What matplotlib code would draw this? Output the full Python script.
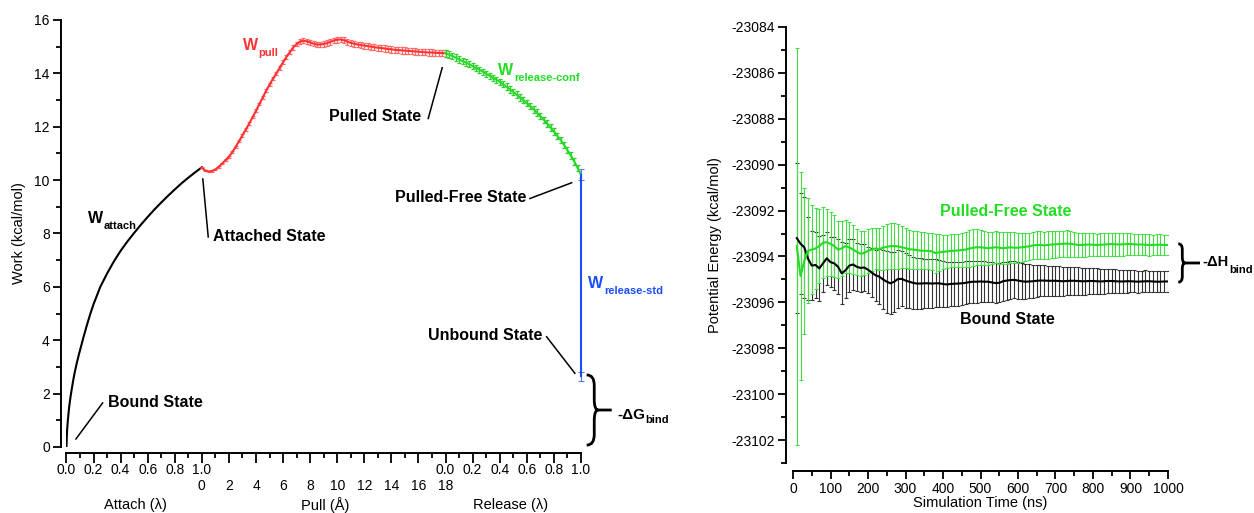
import matplotlib
matplotlib.use('Agg')
import matplotlib.pyplot as plt
import numpy as np
from matplotlib.path import Path
from matplotlib.patches import PathPatch
from matplotlib.ticker import MultipleLocator

plt.rcParams['font.family'] = ['Liberation Sans', 'DejaVu Sans']
plt.rcParams['axes.unicode_minus'] = False

# ---- left panel data ----
attach_lam = [0.0, 0.0025, 0.005, 0.01, 0.015, 0.02, 0.03, 0.04, 0.05, 0.06, 0.075, 0.09, 0.1, 0.125, 0.15,
              0.175, 0.2, 0.25, 0.3, 0.35, 0.4, 0.45, 0.5, 0.55, 0.6, 0.65, 0.7, 0.75, 0.8, 0.85, 0.9, 0.95, 1.0]
attach_w = [0.0, 0.4, 0.65, 0.98, 1.25, 1.5, 1.88, 2.2, 2.5, 2.77, 3.12, 3.43, 3.62, 4.1, 4.55,
            4.97, 5.35, 6.0, 6.5, 6.95, 7.35, 7.7, 8.02, 8.33, 8.62, 8.9, 9.16, 9.41, 9.65, 9.88, 10.09, 10.29, 10.48]

pull_d = [0.0, 0.25, 0.5, 0.75, 1.0, 1.25, 1.5, 1.75, 2.0, 2.25, 2.5, 2.75, 3.0, 3.25, 3.5, 3.75,
          4.0, 4.25, 4.5, 4.75, 5.0, 5.25, 5.5, 5.75, 6.0, 6.25, 6.5, 6.75, 7.0, 7.25, 7.5, 7.75,
          8.0, 8.25, 8.5, 8.75, 9.0, 9.25, 9.5, 9.75, 10.0, 10.25, 10.5, 10.75, 11.0, 11.25, 11.5, 11.75,
          12.0, 12.25, 12.5, 12.75, 13.0, 13.25, 13.5, 13.75, 14.0, 14.25, 14.5, 14.75, 15.0, 15.25, 15.5,
          15.75, 16.0, 16.25, 16.5, 16.75, 17.0, 17.25, 17.5, 17.75, 18.0]
pull_w = [10.46, 10.36, 10.32, 10.34, 10.40, 10.50, 10.62, 10.75, 10.88, 11.05, 11.25, 11.46, 11.68, 11.90, 12.12, 12.36,
          12.60, 12.85, 13.10, 13.35, 13.58, 13.80, 14.00, 14.21, 14.42, 14.62, 14.80, 14.97, 15.10, 15.19, 15.22, 15.20,
          15.16, 15.11, 15.08, 15.08, 15.10, 15.13, 15.18, 15.23, 15.26, 15.27, 15.24, 15.19, 15.14, 15.11, 15.08, 15.06,
          15.04, 15.02, 15.00, 14.98, 14.96, 14.95, 14.93, 14.91, 14.90, 14.88, 14.87, 14.86, 14.85, 14.84, 14.83,
          14.82, 14.81, 14.80, 14.79, 14.78, 14.78, 14.77, 14.76, 14.76, 14.75]
pull_err = [0.02, 0.02, 0.03, 0.03, 0.03, 0.03, 0.03, 0.04, 0.04, 0.04, 0.04, 0.04, 0.05, 0.05, 0.05, 0.05,
            0.05, 0.05, 0.05, 0.06, 0.06, 0.06, 0.06, 0.07, 0.07, 0.07, 0.08, 0.08, 0.09, 0.09, 0.10, 0.10,
            0.10, 0.10, 0.10, 0.10, 0.11, 0.11, 0.11, 0.11, 0.11, 0.11, 0.11, 0.11, 0.11, 0.11, 0.11, 0.11,
            0.11, 0.11, 0.11, 0.12, 0.12, 0.12, 0.12, 0.12, 0.12, 0.12, 0.12, 0.12, 0.12, 0.12, 0.12,
            0.12, 0.12, 0.12, 0.12, 0.12, 0.12, 0.12, 0.12, 0.12, 0.12]

rel_lam = [0.0, 0.025, 0.05, 0.075, 0.1, 0.125, 0.15, 0.175, 0.2, 0.225, 0.25, 0.275, 0.3, 0.325, 0.35, 0.375,
           0.4, 0.425, 0.45, 0.475, 0.5, 0.525, 0.55, 0.575, 0.6, 0.625, 0.65, 0.675, 0.7, 0.725, 0.75, 0.775,
           0.8, 0.825, 0.85, 0.875, 0.9, 0.925, 0.95, 0.975, 1.0]
rel_w = [14.75, 14.70, 14.65, 14.59, 14.52, 14.46, 14.40, 14.34, 14.27, 14.20, 14.13, 14.06, 13.98, 13.91, 13.83, 13.76,
         13.68, 13.59, 13.50, 13.40, 13.30, 13.20, 13.10, 12.99, 12.88, 12.77, 12.65, 12.53, 12.40, 12.26, 12.12, 11.97,
         11.82, 11.66, 11.50, 11.32, 11.12, 10.92, 10.70, 10.46, 10.20]
rel_err = [0.12] * 41

std_lam = [1.0, 1.0]
std_w = [10.2, 2.65]
std_err = [0.2, 0.17]

# ---- right panel data ----
time_ns = np.arange(10, 1001, 10)
pf_mean = [-23093.55, -23094.85, -23094.2, -23093.75, -23093.7, -23093.65, -23093.55, -23093.4, -23093.38, -23093.45,
           -23093.55, -23093.7, -23093.65, -23093.55, -23093.6, -23093.7, -23093.8, -23093.88, -23093.85, -23093.75,
           -23093.7, -23093.65, -23093.68, -23093.62, -23093.58, -23093.55, -23093.55, -23093.56, -23093.6, -23093.64,
           -23093.68, -23093.7, -23093.72, -23093.75, -23093.75, -23093.76, -23093.78, -23093.85, -23093.82, -23093.8,
           -23093.78, -23093.76, -23093.75, -23093.74, -23093.72, -23093.7, -23093.66, -23093.62, -23093.6, -23093.6,
           -23093.62, -23093.64, -23093.62, -23093.6, -23093.62, -23093.64, -23093.62, -23093.6, -23093.62, -23093.62,
           -23093.6, -23093.58, -23093.56, -23093.52, -23093.5, -23093.5, -23093.52, -23093.5, -23093.48, -23093.47,
           -23093.46, -23093.45, -23093.44, -23093.45, -23093.47, -23093.5, -23093.5, -23093.49, -23093.48, -23093.49,
           -23093.5, -23093.49, -23093.48, -23093.47, -23093.46, -23093.47, -23093.48, -23093.47, -23093.46, -23093.46,
           -23093.47, -23093.48, -23093.48, -23093.49, -23093.5, -23093.5, -23093.49, -23093.49, -23093.5, -23093.5]
pf_err = [8.65, 4.55, 3.2, 2.3, 1.95, 1.75, 1.6, 1.55, 1.45, 1.4,
          1.35, 1.25, 1.2, 1.15, 1.1, 1.05, 1.0, 0.98, 0.96, 0.95,
          0.92, 0.9, 0.92, 0.95, 0.98, 1.0, 1.0, 0.98, 0.92, 0.88,
          0.85, 0.83, 0.82, 0.8, 0.8, 0.8, 0.82, 0.85, 0.8, 0.75,
          0.73, 0.72, 0.72, 0.73, 0.75, 0.78, 0.8, 0.8, 0.78, 0.76,
          0.74, 0.72, 0.7, 0.7, 0.7, 0.7, 0.69, 0.68, 0.67, 0.66,
          0.64, 0.62, 0.6, 0.6, 0.6, 0.6, 0.6, 0.59, 0.58, 0.58,
          0.57, 0.57, 0.58, 0.57, 0.55, 0.54, 0.53, 0.52, 0.52, 0.51,
          0.5, 0.5, 0.49, 0.49, 0.5, 0.5, 0.49, 0.49, 0.48, 0.48,
          0.47, 0.47, 0.46, 0.46, 0.46, 0.45, 0.45, 0.45, 0.45, 0.45]
bd_mean = [-23093.2, -23093.45, -23093.6, -23094.1, -23094.4, -23094.37, -23094.52, -23094.3, -23094.08, -23094.25,
           -23094.3, -23094.45, -23094.74, -23094.6, -23094.4, -23094.35, -23094.45, -23094.5, -23094.48, -23094.58,
           -23094.7, -23094.82, -23094.88, -23095.0, -23095.1, -23095.17, -23095.1, -23094.98, -23094.98, -23095.05,
           -23095.1, -23095.15, -23095.18, -23095.18, -23095.17, -23095.17, -23095.18, -23095.17, -23095.17, -23095.2,
           -23095.22, -23095.2, -23095.19, -23095.18, -23095.17, -23095.15, -23095.12, -23095.1, -23095.1, -23095.09,
           -23095.1, -23095.1, -23095.13, -23095.16, -23095.15, -23095.08, -23095.05, -23095.03, -23095.02, -23095.05,
           -23095.08, -23095.1, -23095.09, -23095.08, -23095.06, -23095.05, -23095.05, -23095.06, -23095.06, -23095.06,
           -23095.07, -23095.08, -23095.07, -23095.06, -23095.06, -23095.07, -23095.08, -23095.08, -23095.07, -23095.07,
           -23095.08, -23095.09, -23095.08, -23095.07, -23095.07, -23095.08, -23095.09, -23095.09, -23095.08, -23095.08,
           -23095.09, -23095.1, -23095.09, -23095.08, -23095.08, -23095.09, -23095.1, -23095.1, -23095.09, -23095.09]
bd_err = [3.26, 2.2, 2.2, 1.8, 1.5, 1.45, 1.4, 1.25, 1.15, 1.1,
          1.15, 1.2, 1.35, 1.2, 1.15, 1.1, 1.05, 1.05, 1.03, 1.0,
          1.05, 1.1, 1.2, 1.3, 1.35, 1.35, 1.3, 1.25, 1.2, 1.18,
          1.15, 1.12, 1.1, 1.1, 1.08, 1.06, 1.05, 1.04, 1.03, 1.02,
          1.0, 0.98, 0.97, 0.96, 0.95, 0.94, 0.93, 0.92, 0.91, 0.9,
          0.89, 0.88, 0.87, 0.86, 0.85, 0.84, 0.83, 0.82, 0.81, 0.8,
          0.78, 0.76, 0.74, 0.72, 0.7, 0.68, 0.67, 0.66, 0.65, 0.65,
          0.64, 0.63, 0.62, 0.61, 0.6, 0.6, 0.59, 0.58, 0.58, 0.57,
          0.56, 0.55, 0.55, 0.54, 0.53, 0.52, 0.51, 0.5, 0.5, 0.49,
          0.48, 0.48, 0.47, 0.47, 0.46, 0.46, 0.45, 0.45, 0.45, 0.45]

attach_ticks = ['0.0', '0.2', '0.4', '0.6', '0.8', '1.0']
pull_ticks = ['0', '2', '4', '6', '8', '10', '12', '14', '16', '18']

RED = '#ff3333'
GREEN = '#22dd22'
BLUE = '#1a4dff'


def pull_x(d):
    # 1 Angstrom takes the same room as 0.1 lambda
    return 1.0 + np.asarray(d) / 10.0


def rel_x(lam):
    return 2.8 + np.asarray(lam)


def brace(ax, x0, y0, y1, a, b, tail, lw=2.0):
    xm = x0 + a
    ym = (y0 + y1) / 2
    r = (y1 - y0) * 0.15
    verts = [(x0, y1), (xm, y1), (xm, y1 - r), (xm, ym + r), (xm, ym), (xm + b, ym),
             (xm, ym), (xm, ym - r), (xm, y0 + r), (xm, y0), (x0, y0),
             (xm + b, ym), (xm + b + tail, ym)]
    codes = [Path.MOVETO, Path.CURVE3, Path.CURVE3, Path.LINETO, Path.CURVE3, Path.CURVE3,
             Path.CURVE3, Path.CURVE3, Path.LINETO, Path.CURVE3, Path.CURVE3,
             Path.MOVETO, Path.LINETO]
    ax.add_patch(PathPatch(Path(verts, codes), fill=False, lw=lw, color='k', clip_on=False))


def sub_label(ax, x, y, main, sub, color, drop=-2, va='baseline', size=11.5):
    t = ax.text(x, y, main, color=color, fontsize=size, fontweight='bold', va=va)
    ax.annotate(sub, xy=(1, 0), xycoords=t, xytext=(0.3, drop), textcoords='offset points',
                color=color, fontsize=8, fontweight='bold', va='baseline', annotation_clip=False)


def leader(ax, p1, p2):
    ax.plot([p1[0], p2[0]], [p1[1], p2[1]], color='k', lw=1.1, clip_on=False)


def style_axes(ax):
    for s in ['top', 'right']:
        ax.spines[s].set_visible(False)
    for s in ['left', 'bottom']:
        ax.spines[s].set_position(('outward', 4))
        ax.spines[s].set_linewidth(1.4)
    ax.tick_params(which='major', direction='out', length=6, width=1.3, labelsize=10, pad=2)
    ax.tick_params(which='minor', direction='out', length=3.5, width=1.3)


fig = plt.figure(figsize=(12.54, 5.13), dpi=100)

# ================= left panel =================
ax1 = fig.add_axes([0.053, 0.1287, 0.4103, 0.8324])
style_axes(ax1)
ax1.set_xlim(0, 3.8)
ax1.set_ylim(0, 16)
ax1.yaxis.set_major_locator(MultipleLocator(2))
ax1.yaxis.set_minor_locator(MultipleLocator(1))
ax1.xaxis.set_major_locator(MultipleLocator(0.2))
ax1.xaxis.set_minor_locator(MultipleLocator(0.1))
ax1.tick_params(axis='x', which='major', length=7, labelbottom=False)
ax1.set_ylabel('Work (kcal/mol)', fontsize=10.5)
ax1.yaxis.set_label_coords(-0.078, 0.5)

ax1.plot(attach_lam, attach_w, color='k', lw=1.5)
ax1.errorbar(pull_x(pull_d), pull_w, yerr=pull_err, color=RED, lw=1.5,
             ecolor='#ff6a6a', elinewidth=0.9, capsize=1.6, capthick=0.9)
ax1.errorbar(rel_x(rel_lam), rel_w, yerr=rel_err, color=GREEN, lw=1.5,
             ecolor='#33cc33', elinewidth=0.9, capsize=1.6, capthick=0.9)
ax1.errorbar(rel_x(std_lam), std_w, yerr=std_err, color=BLUE, lw=1.5,
             ecolor='#5577ff', elinewidth=0.8, capsize=2, capthick=0.8, clip_on=False)

# two rows of x tick labels and section names
xt = ax1.get_xaxis_transform()
for i, lab in enumerate(attach_ticks):
    ax1.text(0.2 * i, -0.053, lab, transform=xt, ha='center', va='center', fontsize=10)
    ax1.text(2.8 + 0.2 * i, -0.053, lab, transform=xt, ha='center', va='center', fontsize=10)
for i, lab in enumerate(pull_ticks):
    ax1.text(1.0 + 0.2 * i, -0.091, lab, transform=xt, ha='center', va='center', fontsize=10)
ax1.text(0.506, -0.137, 'Attach (\u03bb)', transform=xt, ha='center', va='center', fontsize=10.5)
ax1.text(1.91, -0.137, 'Pull (\u00c5)', transform=xt, ha='center', va='center', fontsize=10.5)
ax1.text(3.28, -0.137, 'Release (\u03bb)', transform=xt, ha='center', va='center', fontsize=10.5)

# labels
sub_label(ax1, 0.161, 8.4, 'W', 'attach', 'k')
sub_label(ax1, 1.304, 14.87, 'W', 'pull', RED)
sub_label(ax1, 3.189, 13.93, 'W', 'release-conf', GREEN)
sub_label(ax1, 3.854, 5.95, 'W', 'release-std', BLUE)

bold = dict(fontsize=11.5, fontweight='bold', va='center')
ax1.text(0.309, 1.67, 'Bound State', ha='left', **bold)
leader(ax1, (0.07, 0.3), (0.267, 1.65))
ax1.text(1.084, 7.9, 'Attached State', ha='left', **bold)
leader(ax1, (1.007, 10.04), (1.047, 7.87))
ax1.text(2.623, 12.4, 'Pulled State', ha='right', **bold)
leader(ax1, (2.672, 12.31), (2.775, 14.21))
ax1.text(3.399, 9.33, 'Pulled-Free State', ha='right', **bold)
leader(ax1, (3.423, 9.31), (3.731, 9.90))
ax1.text(3.517, 4.16, 'Unbound State', ha='right', **bold)
leader(ax1, (3.546, 4.13), (3.755, 2.76))

brace(ax1, 3.842, 0.07, 2.70, 0.056, 0.03, 0.099)
sub_label(ax1, 4.066, 1.05, '-\u0394G', 'bind', 'k', drop=-1, size=11)

# ================= right panel =================
ax2 = fig.add_axes([0.6324, 0.0975, 0.2990, 0.8499])
style_axes(ax2)
ax2.spines['left'].set_position(('outward', 5))
ax2.spines['bottom'].set_position(('outward', 6))
ax2.set_xlim(0, 1000)
ax2.set_ylim(-23103, -23084)
ax2.xaxis.set_major_locator(MultipleLocator(100))
ax2.xaxis.set_minor_locator(MultipleLocator(50))
ax2.yaxis.set_major_locator(MultipleLocator(2))
ax2.yaxis.set_minor_locator(MultipleLocator(1))
ax2.set_xlabel('Simulation Time (ns)', fontsize=10.5, labelpad=0)
ax2.set_ylabel('Potential Energy (kcal/mol)', fontsize=10.5)
ax2.yaxis.set_label_coords(-0.19, 0.5)

ax2.errorbar(time_ns, bd_mean, yerr=bd_err, color='k', lw=1.5,
             ecolor='#333333', elinewidth=0.8, capsize=1.5, capthick=0.8)
ax2.errorbar(time_ns, pf_mean, yerr=pf_err, color=GREEN, lw=1.5,
             ecolor='#44dd44', elinewidth=0.8, capsize=1.5, capthick=0.8)

ax2.text(567, -23092.05, 'Pulled-Free State', color=GREEN, ha='center', **bold)
ax2.text(572, -23096.74, 'Bound State', color='k', ha='center', **bold)

brace(ax2, 1027.5, -23095.12, -23093.45, 10.7, 7.2, 40)
sub_label(ax2, 1092, -23094.25, '-\u0394H', 'bind', 'k', drop=-3, va='center', size=10.5)

fig.savefig('out.png', dpi=100)
